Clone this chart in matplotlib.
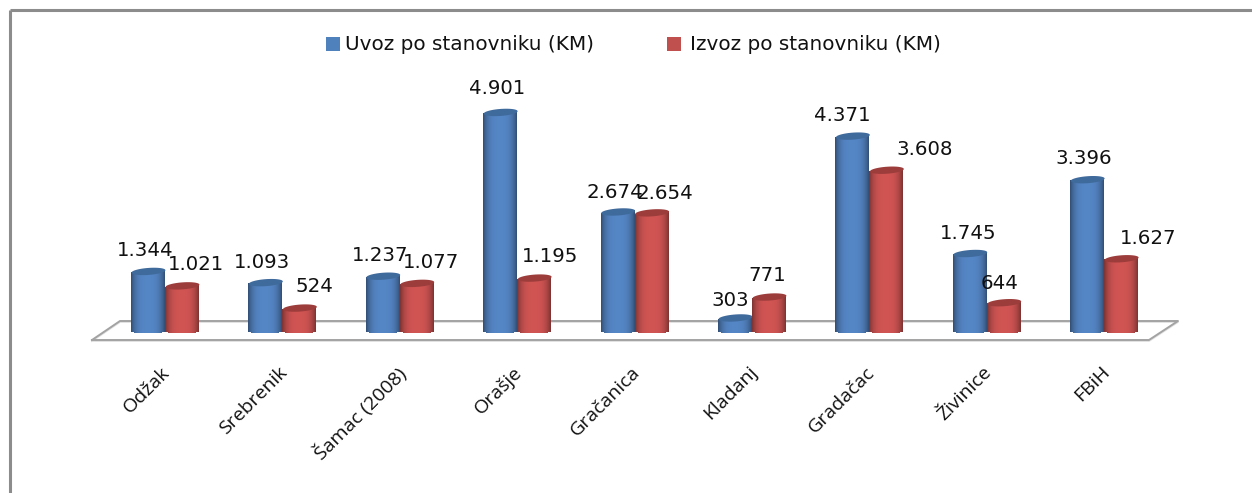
import numpy as np
import matplotlib
matplotlib.use("Agg")
import matplotlib.pyplot as plt
from matplotlib.colors import to_rgb
from matplotlib.patches import Rectangle

# ---- data ----
categories = ["Odžak", "Srebrenik", "Šamac (2008)", "Orašje", "Gračanica",
              "Kladanj", "Gradačac", "Živinice", "FBiH"]
uvoz = [1344, 1093, 1237, 4901, 2674, 303, 4371, 1745, 3396]
izvoz = [1021, 524, 1077, 1195, 2654, 771, 3608, 644, 1627]
uvoz_labels = ["1.344", "1.093", "1.237", "4.901", "2.674", "303", "4.371", "1.745", "3.396"]
izvoz_labels = ["1.021", "524", "1.077", "1.195", "2.654", "771", "3.608", "644", "1.627"]
series_names = ["Uvoz po stanovniku (KM)", "Izvoz po stanovniku (KM)"]

# ---- layout (pixels) ----
W, H = 1252, 493
X0, DX = 165.0, 117.4      # first category centre, category spacing
Y0, SY = 331.0, 0.0447     # baseline row, pixels per unit
BAR_W = 34.0
uvoz_off = [(-3, 20), (-3, 20), (-3, 20), (-3, 23), (-3, 19), (-5, 17), (-10, 20), (-2, 19), (-3, 21)]
izvoz_off = [(14, 21), (15, 21), (14, 20), (16, 21), (13, 19), (-2, 21), (38, 20), (-4, 19), (27, 20)]

fig = plt.figure(figsize=(W / 100, H / 100), dpi=100, facecolor="white")
ax = fig.add_axes([0, 0, 1, 1])
ax.set_xlim((0 - X0) / DX, (W - X0) / DX)
ax.set_ylim((Y0 - H) / SY, Y0 / SY)
ax.axis("off")

px = 1 / DX      # one horizontal pixel in data units
py = 1 / SY      # one vertical pixel in data units


def xp(v):
    return (v - X0) / DX


def yp(v):
    return (Y0 - v) / SY


# frame of the picture
ax.plot([xp(9.5), xp(9.5)], [yp(493), yp(9.5)], color="#8c8c8c", lw=2.2, solid_capstyle="butt", zorder=1)
ax.plot([xp(9.5), xp(1252)], [yp(9.5), yp(9.5)], color="#8c8c8c", lw=2.2, solid_capstyle="butt", zorder=1)

# floor of the 3D plot
floor_x = [xp(92), xp(120), xp(1178), xp(1149), xp(92)]
floor_y = [yp(340), yp(321), yp(321), yp(340), yp(340)]
ax.plot(floor_x, np.array(floor_y) - 1 * py, color="#e2e2e2", lw=1.4, zorder=1)
ax.plot(floor_x, floor_y, color="#a3a3a3", lw=1.4, zorder=1.1)


def shade(base, u):
    """cylinder shading across the normalised width u in -1..1"""
    k = 1 - 0.42 * np.abs(u) ** 3.2
    return tuple(np.clip(np.array(to_rgb(base)) * k, 0, 1))


def cylinder(x_center, value, base, cap, z):
    n = 34
    edges = np.linspace(-1, 1, n + 1)
    mids = (edges[:-1] + edges[1:]) / 2
    half = BAR_W / 2 * px
    rb = 2.5 * py
    rt = 3.5 * py
    tilt = 1.2 * py
    for u in mids:
        low = -rb * np.sqrt(1 - u * u)
        top = value + tilt * u
        ax.bar(x_center + u * half, top - low, bottom=low, width=half * 2 / n * 1.06,
               color=shade(base, u), linewidth=0, zorder=z)
    us = np.linspace(-1, 1, 60)
    cx = x_center + us * half
    ct = value + tilt * us
    ax.fill_between(cx, ct - rt * np.sqrt(1 - us * us), ct + rt * np.sqrt(1 - us * us),
                    color=cap, linewidth=0, zorder=z + 0.1)


BLUE, RED = "#5485c4", "#cf5452"
BLUE_CAP, RED_CAP = "#3f6a9c", "#9c3d3b"

offset = BAR_W / 2 * px
for i in range(len(categories)):
    cylinder(i - offset, uvoz[i], BLUE, BLUE_CAP, 3)
    cylinder(i + offset, izvoz[i], RED, RED_CAP, 4)
    for val, lab, off, sgn in ((uvoz[i], uvoz_labels[i], uvoz_off[i], -1),
                               (izvoz[i], izvoz_labels[i], izvoz_off[i], 1)):
        ax.annotate(lab, (i + sgn * offset, val), xytext=off, textcoords="offset pixels",
                    ha="center", va="center", fontsize=14.2, color="#111111",
                    family="DejaVu Sans", zorder=6)
    ax.annotate(categories[i], (i, 0), xytext=(-4, -32), textcoords="offset pixels",
                rotation=45, rotation_mode="anchor", ha="right", va="top",
                fontsize=14, color="#111111", family="Open Sans", zorder=6)

# legend
leg_y = yp(44)
for sx, tx, col, name in ((326, 345, BLUE, series_names[0]), (667, 690, RED, series_names[1])):
    ax.add_patch(Rectangle((xp(sx), yp(51)), 14 * px, 14 * py, color="#4f81bd" if col == BLUE else "#c0504d",
                           linewidth=0, zorder=5))
    ax.text(xp(tx), leg_y, name, ha="left", va="center", fontsize=14.4, color="#111111",
            family="DejaVu Sans", zorder=6)

fig.savefig("out.png", dpi=100, facecolor="white")
